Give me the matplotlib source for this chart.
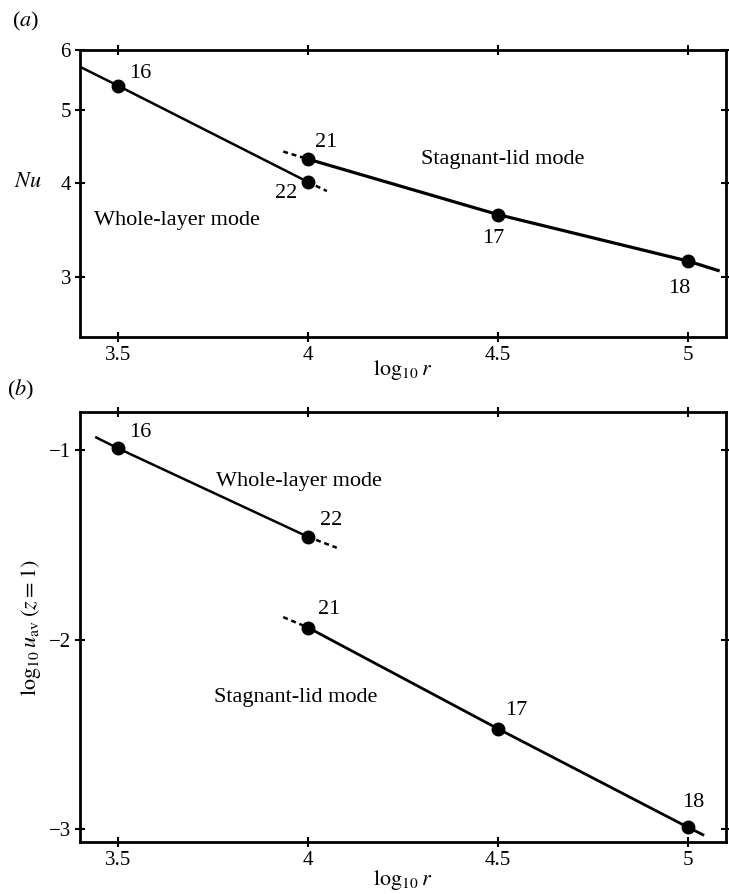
import matplotlib
matplotlib.use('Agg')
import matplotlib.pyplot as plt
import matplotlib.transforms as mtransforms

plt.rcParams['font.family'] = ['Liberation Serif', 'DejaVu Serif']
plt.rcParams['mathtext.fontset'] = 'stix'

# run numbers and log10 r
runs = ['16', '22', '21', '17', '18']
logr = [3.5, 4.0, 4.0, 4.5, 5.0]

# (a) Nusselt number
nu = [5.38, 4.01, 4.30, 3.63, 3.15]
# (b) log10 u_av (z = 1)
logu = [-0.99, -1.457, -1.936, -2.47, -2.99]

# fitted lines: solid part and dashed extension
a_whole_x, a_whole_y = [3.4, 3.5, 4.0], [5.70, 5.38, 4.01]
a_whole_dash_x, a_whole_dash_y = [4.0, 4.05], [4.01, 3.90]
a_stag_x, a_stag_y = [4.0, 4.5, 5.0, 5.08], [4.30, 3.63, 3.15, 3.06]
a_stag_dash_x, a_stag_dash_y = [3.935, 4.0], [4.40, 4.30]

b_whole_x, b_whole_y = [3.443, 3.5, 4.0], [-0.933, -0.99, -1.457]
b_whole_dash_x, b_whole_dash_y = [4.0, 4.076], [-1.457, -1.515]
b_stag_x, b_stag_y = [4.0, 4.5, 5.0, 5.04], [-1.936, -2.47, -2.99, -3.03]
b_stag_dash_x, b_stag_dash_y = [3.935, 4.0], [-1.881, -1.936]

FS = 16
TFS = 15

fig = plt.figure(figsize=(7.29, 8.94), dpi=100)
ax1 = fig.add_axes([0.1097, 0.6234, 0.8858, 0.3207])
ax2 = fig.add_axes([0.1097, 0.0578, 0.8858, 0.4810])


def style(ax):
    for s in ax.spines.values():
        s.set_linewidth(2)
    ax.tick_params(direction='inout', length=7, width=1.5, top=True, right=True,
                   labelsize=TFS, pad=3)
    ax.set_xticks([3.5, 4, 4.5, 5])
    ax.set_xticklabels(['3.5', '4', '4.5', '5'])


# panel (a)
ax1.plot(a_whole_x, a_whole_y, color='black', lw=1.8)
ax1.plot(a_whole_dash_x, a_whole_dash_y, color='black', lw=1.8, ls=(0, (2, 1.5)))
ax1.plot(a_stag_x, a_stag_y, color='black', lw=2.3)
ax1.plot(a_stag_dash_x, a_stag_dash_y, color='black', lw=1.8, ls=(0, (2, 1.5)))
ax1.plot(logr, nu, 'o', color='black', ms=9)
ax1.set_yscale('log')
ax1.set_xlim(3.4, 5.1)
ax1.set_ylim(2.5, 6)
ax1.set_yticks([3, 4, 5, 6])
ax1.set_yticklabels(['3', '4', '5', '6'])
ax1.yaxis.set_minor_locator(matplotlib.ticker.NullLocator())
style(ax1)
ax1.set_xlabel(r'$\log_{10} r$', fontsize=FS, labelpad=-5)
trans = mtransforms.blended_transform_factory(ax1.transAxes, ax1.transData)
ax1.text(-0.08, 4.0, r'$Nu$', transform=trans, fontsize=FS,
         ha='center', va='center')
a_offsets = [(8, 9), (-24, -8), (5, 12), (-11, -17), (-14, -20)]
for lab, x, y, off in zip(runs, logr, nu, a_offsets):
    ax1.annotate(lab, (x, y), xytext=off, textcoords='offset points',
                 fontsize=FS, va='center')
ax1.text(3.437, 3.57, 'Whole-layer mode', fontsize=FS, va='center')
ax1.text(4.299, 4.29, 'Stagnant-lid mode', fontsize=FS, va='center')
fig.text(0.016, 0.976, r'($a$)', fontsize=FS, va='center')

# panel (b)
ax2.plot(b_whole_x, b_whole_y, color='black', lw=1.8)
ax2.plot(b_whole_dash_x, b_whole_dash_y, color='black', lw=1.8, ls=(0, (2, 1.5)))
ax2.plot(b_stag_x, b_stag_y, color='black', lw=2.0)
ax2.plot(b_stag_dash_x, b_stag_dash_y, color='black', lw=1.8, ls=(0, (2, 1.5)))
ax2.plot(logr, logu, 'o', color='black', ms=9)
ax2.set_xlim(3.4, 5.1)
ax2.set_ylim(-3.07, -0.8)
ax2.set_yticks([-3, -2, -1])
ax2.set_yticklabels(['\u22123', '\u22122', '\u22121'])
style(ax2)
ax2.set_xlabel(r'$\log_{10} r$', fontsize=FS, labelpad=-2)
ax2.set_ylabel(r'$\log_{10} u_{\rm av}\;(z=1)$', fontsize=FS, labelpad=4)
b_offsets = [(8, 11.5), (9, 12), (7, 13), (5, 13), (-4, 18)]
for lab, x, y, off in zip(runs, logr, logu, b_offsets):
    ax2.annotate(lab, (x, y), xytext=off, textcoords='offset points',
                 fontsize=FS, va='center')
ax2.text(3.758, -1.164, 'Whole-layer mode', fontsize=FS, va='center')
ax2.text(3.753, -2.303, 'Stagnant-lid mode', fontsize=FS, va='center')
fig.text(0.010, 0.5638, r'($b$)', fontsize=FS, va='center')

fig.savefig('out.png', dpi=100)
